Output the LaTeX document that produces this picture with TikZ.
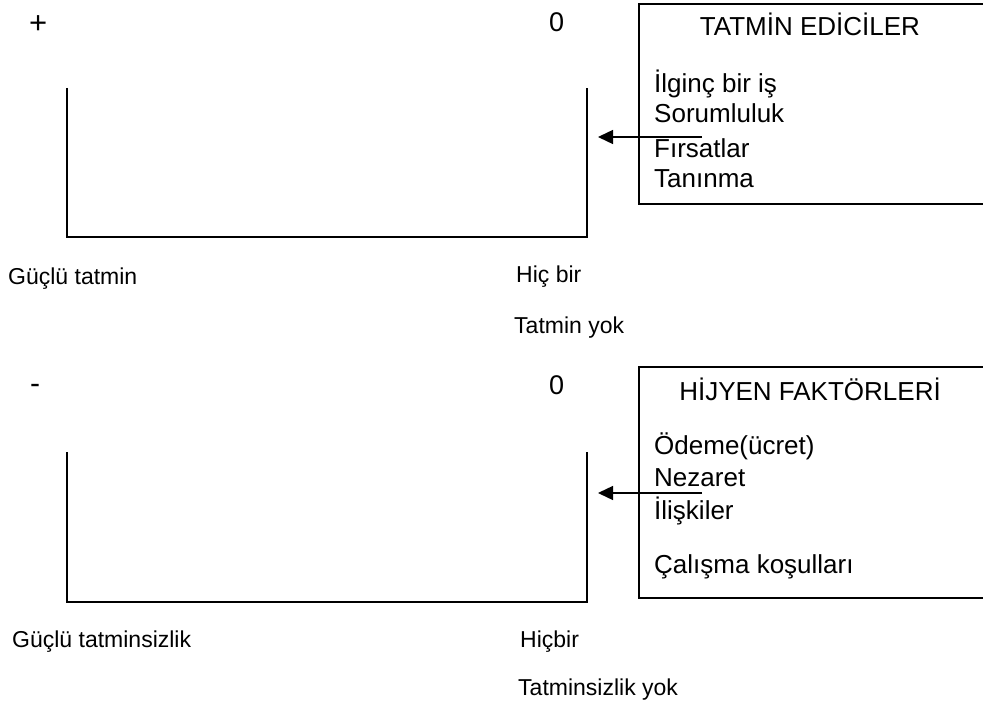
\documentclass[tikz,border=0pt]{standalone}
\usepackage{fontspec}
\setmainfont{Liberation Sans}
\usetikzlibrary{arrows.meta}
\begin{document}
\begin{tikzpicture}[x=1pt,y=-1pt,
  lbl/.style={inner sep=0pt, anchor=base west, font=\fontsize{23}{27}\selectfont},
  item/.style={inner sep=0pt, anchor=base west, font=\fontsize{26}{30}\selectfont},
  ttl/.style={inner sep=0pt, anchor=base, font=\fontsize{26}{30}\selectfont},
  sign/.style={inner sep=0pt, anchor=base west, font=\fontsize{27}{32}\selectfont},
  axis/.style={line width=1.4pt},
  frame/.style={line width=1.5pt},
  pointer/.style={line width=1.4pt, -{Triangle[length=15pt,width=14pt]}}]
\useasboundingbox (0,0) rectangle (983,706);
\clip (0,0) rectangle (983,706);

% ---- satisfiers ----
\node[sign, font=\fontsize{31}{36}\selectfont] (plus) at (29,34) {+};
\node[sign] (zeroA) at (549,32) {0};
\draw[axis] (67,88) -- (67,237) -- (587,237) -- (587,88);
\draw[frame] (639,4) rectangle (1000,204);
\node[ttl] (satT) at (810,36) {TATMİN EDİCİLER};
\node[item] (satA) at (654,93) {İlginç bir iş};
\node[item] (satB) at (654,123) {Sorumluluk};
\node[item] (satC) at (654,158) {Fırsatlar};
\node[item] (satD) at (654,188) {Tanınma};
\coordinate (arrAs) at (702,137);
\coordinate (arrAe) at (598,137);
\draw[pointer] (arrAs) -- (arrAe);
\node[lbl] (strongA) at (8,284) {Güçlü tatmin};
\node[lbl] (noneA) at (516,282) {Hiç bir};
\node[lbl] (noneA2) at (514,333) {Tatmin yok};

% ---- hygiene factors ----
\node[sign, font=\fontsize{30}{36}\selectfont] (minus) at (30,393) {-};
\node[sign] (zeroB) at (549,394) {0};
\draw[axis] (67,452) -- (67,602) -- (587,602) -- (587,452);
\draw[frame] (639,367) rectangle (1000,598);
\node[ttl] (hygT) at (810,400) {HİJYEN FAKTÖRLERİ};
\node[item] (hygA) at (654,454) {Ödeme(ücret)};
\node[item] (hygB) at (654,486) {Nezaret};
\node[item] (hygC) at (654,519) {İlişkiler};
\node[item] (hygD) at (654,573) {Çalışma koşulları};
\coordinate (arrBs) at (702,493);
\coordinate (arrBe) at (598,493);
\draw[pointer] (arrBs) -- (arrBe);
\node[lbl] (strongB) at (12,647) {Güçlü tatminsizlik};
\node[lbl] (noneB) at (520,647) {Hiçbir};
\node[lbl] (noneB2) at (518,695) {Tatminsizlik yok};
\end{tikzpicture}
\end{document}
